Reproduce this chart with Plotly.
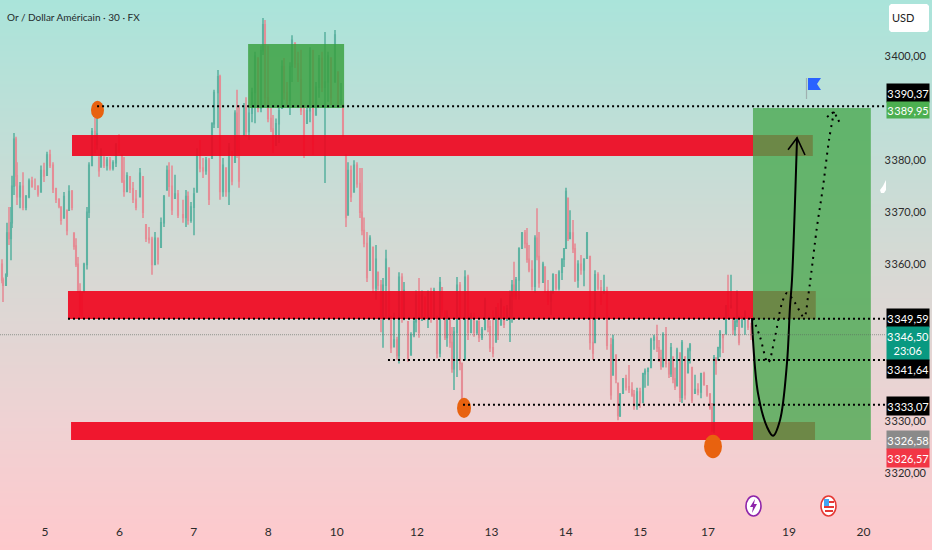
import numpy as np
import plotly.graph_objects as go

W, H = 932, 550
FONT = "Lato, Roboto, sans-serif"

# candle time in 1/74.4 of a session
candle_col = [
    2, 3, 6, 7, 9, 11, 12, 14, 16, 17, 20, 23, 26, 29, 32, 35, 38, 41, 44, 47,
    50, 53, 56, 59, 61, 64, 67, 69, 72, 74, 76, 78, 80, 82, 84, 87, 89, 92, 95, 97,
    99, 101, 104, 107, 110, 113, 116, 119, 122, 124, 127, 130, 133, 136, 140, 143, 146, 149, 152, 155,
    158, 161, 164, 167, 169, 172, 175, 178, 183, 186, 188, 191, 194, 197, 200, 203, 206, 209, 212, 214,
    218, 220, 223, 226, 229, 232, 235, 237, 239, 244, 246, 249, 252, 255, 258, 261, 263, 265, 268, 271,
    273, 276, 279, 282, 284, 287, 290, 292, 295, 298, 301, 304, 307, 310, 313, 316, 319, 322, 325, 328,
    331, 335, 338, 341, 343, 346, 348, 351, 354, 357, 360, 362, 364, 367, 370, 373, 376, 378, 381, 383,
    386, 389, 391, 394, 397, 399, 402, 404, 408, 411, 414, 416, 419, 422, 425, 428, 431, 434, 437, 440,
    442, 445, 447, 450, 452, 454, 457, 460, 462, 465, 468, 471, 474, 477, 479, 482, 485, 488, 490, 493,
    496, 498, 501, 504, 507, 510, 512, 514, 516, 519, 522, 525, 527, 529, 532, 535, 537, 539, 543, 545,
    548, 551, 553, 556, 559, 562, 564, 566, 568, 570, 573, 575, 578, 581, 584, 587, 590, 593, 595, 598,
    601, 604, 607, 611, 613, 616, 618, 620, 623, 626, 629, 632, 634, 637, 640, 643, 645, 648, 651, 654,
    657, 659, 661, 663, 666, 669, 671, 673, 675, 677, 680, 682, 685, 688, 690, 692, 695, 698, 701, 704,
    707, 710, 712, 714, 716, 718, 720, 723, 726, 728, 731, 733, 735, 737, 739, 742, 745, 748, 751,
]
high = [
    3361.0, 3357.5, 3358.3, 3368.0, 3371.0, 3371.0, 3377.0, 3385.2, 3384.5, 3379.6, 3375.8, 3377.7, 3373.3, 3376.5, 3376.8, 3376.5, 3375.2, 3379.0, 3379.5, 3381.6,
    3382.0, 3379.6, 3374.7, 3372.7, 3371.0, 3373.9, 3370.4, 3375.2, 3374.3, 3366.0, 3365.0, 3361.4, 3356.4, 3354.7, 3360.3, 3371.0, 3379.6, 3386.2, 3388.1, 3389.6,
    3380.6, 3382.3, 3380.6, 3380.6, 3380.6, 3380.0, 3383.3, 3385.0, 3381.0, 3380.6, 3377.7, 3376.8, 3375.8, 3374.3, 3378.5, 3376.8, 3367.6, 3367.2, 3365.3, 3366.2,
    3365.0, 3369.0, 3373.3, 3379.0, 3379.6, 3379.0, 3377.2, 3374.3, 3372.4, 3374.3, 3374.0, 3372.0, 3374.7, 3382.3, 3383.9, 3380.4, 3380.6, 3380.4, 3387.3, 3393.5,
    3397.3, 3396.4, 3380.4, 3378.5, 3383.3, 3381.6, 3389.6, 3393.5, 3390.6, 3391.0, 3392.1, 3390.0, 3393.9, 3400.8, 3399.6, 3402.0, 3407.3, 3406.9, 3402.0, 3390.0,
    3388.7, 3388.0, 3390.0, 3399.2, 3399.6, 3395.0, 3398.8, 3404.0, 3402.5, 3400.8, 3401.2, 3390.6, 3390.0, 3401.7, 3401.2, 3395.0, 3400.2, 3400.8, 3404.6, 3400.8,
    3399.6, 3405.0, 3396.9, 3394.8, 3390.6, 3381.0, 3379.6, 3379.0, 3380.0, 3379.6, 3378.5, 3378.5, 3369.0, 3366.2, 3365.6, 3363.3, 3363.7, 3358.5, 3357.0, 3357.4,
    3362.8, 3359.3, 3350.0, 3350.7, 3346.1, 3358.5, 3358.3, 3356.6, 3349.0, 3347.0, 3349.7, 3355.0, 3357.4, 3355.0, 3353.7, 3355.0, 3355.5, 3355.5, 3350.0, 3357.6,
    3355.5, 3351.2, 3351.2, 3349.3, 3348.0, 3348.0, 3357.6, 3356.6, 3341.0, 3358.9, 3358.0, 3350.7, 3350.7, 3349.3, 3349.3, 3348.0, 3353.6, 3349.3, 3349.3, 3351.2,
    3351.8, 3352.6, 3353.5, 3351.8, 3352.2, 3355.0, 3357.0, 3360.5, 3357.6, 3363.3, 3366.2, 3366.6, 3367.0, 3363.7, 3360.8, 3365.6, 3370.8, 3366.2, 3360.5, 3359.5,
    3357.0, 3355.0, 3358.3, 3358.0, 3358.9, 3361.2, 3363.1, 3374.7, 3372.7, 3370.4, 3368.5, 3364.0, 3360.8, 3361.8, 3361.2, 3366.2, 3361.5, 3349.7, 3358.9, 3358.5,
    3357.0, 3358.0, 3355.7, 3345.9, 3346.5, 3342.6, 3337.2, 3335.3, 3338.2, 3338.8, 3340.7, 3337.4, 3335.9, 3336.3, 3336.3, 3339.2, 3340.0, 3340.2, 3345.9, 3346.5,
    3348.4, 3345.5, 3343.6, 3347.0, 3348.0, 3341.7, 3344.9, 3342.2, 3340.2, 3344.0, 3343.0, 3345.5, 3342.2, 3344.0, 3344.9, 3340.2, 3338.8, 3337.2, 3339.2, 3339.4,
    3336.7, 3335.3, 3333.4, 3342.6, 3342.0, 3344.2, 3347.4, 3346.5, 3352.2, 3358.0, 3358.0, 3349.7, 3349.7, 3355.0, 3350.0, 3350.0, 3351.2, 3349.3, 3348.8,
]
low = [
    3356.4, 3352.8, 3356.0, 3357.6, 3363.7, 3360.8, 3367.0, 3373.3, 3375.0, 3371.4, 3370.8, 3370.4, 3370.4, 3372.7, 3374.7, 3374.3, 3373.0, 3373.9, 3375.8, 3377.1,
    3378.5, 3373.7, 3371.8, 3370.8, 3367.6, 3368.9, 3365.6, 3370.4, 3370.4, 3362.8, 3359.5, 3354.5, 3350.0, 3349.7, 3354.7, 3359.0, 3368.9, 3379.0, 3381.4, 3382.0,
    3376.8, 3378.7, 3378.5, 3378.0, 3378.0, 3378.0, 3378.7, 3381.4, 3375.6, 3373.0, 3373.9, 3373.7, 3371.8, 3370.4, 3373.0, 3368.9, 3364.3, 3364.0, 3358.0, 3360.0,
    3360.0, 3363.3, 3367.2, 3374.3, 3373.0, 3369.5, 3372.7, 3368.9, 3368.0, 3367.2, 3367.6, 3368.0, 3365.6, 3373.9, 3377.7, 3376.6, 3377.2, 3371.4, 3380.4, 3386.2,
    3386.2, 3372.4, 3373.0, 3373.0, 3371.4, 3375.2, 3379.6, 3380.4, 3374.7, 3384.8, 3384.5, 3383.9, 3387.3, 3387.1, 3389.2, 3389.2, 3400.2, 3390.6, 3387.3, 3385.4,
    3381.4, 3382.9, 3383.3, 3390.0, 3391.6, 3390.6, 3388.7, 3395.0, 3397.7, 3395.0, 3388.7, 3380.4, 3387.1, 3387.3, 3381.0, 3388.7, 3392.0, 3393.1, 3375.6, 3391.2,
    3390.6, 3395.0, 3390.6, 3390.6, 3384.5, 3367.2, 3369.5, 3372.0, 3373.9, 3374.7, 3368.9, 3365.6, 3363.3, 3356.6, 3358.9, 3354.5, 3353.2, 3355.0, 3347.0, 3344.0,
    3349.7, 3349.3, 3343.0, 3344.2, 3341.7, 3341.0, 3348.8, 3349.3, 3341.3, 3342.6, 3346.0, 3347.0, 3345.9, 3349.3, 3349.3, 3347.8, 3348.8, 3350.0, 3342.0, 3342.2,
    3350.0, 3345.5, 3344.2, 3344.0, 3339.2, 3335.9, 3338.4, 3339.7, 3332.1, 3341.7, 3345.5, 3346.8, 3346.1, 3346.5, 3345.1, 3345.5, 3347.5, 3347.0, 3343.2, 3342.2,
    3345.1, 3345.5, 3348.4, 3347.8, 3349.3, 3345.1, 3348.8, 3353.2, 3353.2, 3353.2, 3363.1, 3363.1, 3360.3, 3358.5, 3355.0, 3354.5, 3360.8, 3355.5, 3356.6, 3354.5,
    3352.2, 3350.3, 3354.5, 3355.0, 3355.0, 3357.0, 3359.5, 3363.1, 3364.5, 3365.0, 3362.2, 3356.6, 3355.5, 3358.0, 3355.8, 3361.2, 3343.6, 3341.7, 3345.0, 3355.0,
    3352.2, 3354.5, 3343.6, 3334.0, 3338.8, 3337.2, 3330.1, 3330.7, 3335.3, 3335.8, 3335.3, 3334.6, 3332.1, 3332.1, 3332.5, 3333.5, 3336.3, 3336.7, 3340.2, 3343.6,
    3343.2, 3341.3, 3339.8, 3340.2, 3340.2, 3338.2, 3338.4, 3337.2, 3335.9, 3336.7, 3333.6, 3333.4, 3334.0, 3339.2, 3341.0, 3333.4, 3335.3, 3334.9, 3334.3, 3336.7,
    3334.6, 3332.1, 3327.8, 3327.6, 3338.8, 3341.7, 3342.2, 3343.0, 3346.7, 3350.0, 3351.7, 3346.5, 3346.3, 3348.0, 3344.5, 3348.0, 3346.5, 3347.4, 3345.5,
]
close = [
    3357.0, 3356.0, 3358.0, 3366.0, 3365.0, 3368.0, 3375.0, 3384.0, 3377.0, 3373.0, 3375.0, 3371.0, 3373.0, 3376.0, 3375.0, 3375.0, 3373.5, 3378.0, 3377.0, 3381.0,
    3379.0, 3374.5, 3372.5, 3371.2, 3368.5, 3373.0, 3366.5, 3374.0, 3371.0, 3363.5, 3360.0, 3355.0, 3351.0, 3350.5, 3360.0, 3370.0, 3379.0, 3385.5, 3383.0, 3385.0,
    3378.0, 3381.0, 3379.0, 3380.0, 3378.5, 3379.5, 3383.0, 3382.0, 3376.0, 3374.0, 3377.0, 3374.5, 3372.5, 3371.0, 3377.5, 3370.0, 3365.0, 3364.8, 3360.0, 3365.0,
    3361.0, 3368.0, 3373.0, 3378.0, 3375.0, 3370.5, 3373.5, 3369.5, 3369.0, 3373.0, 3368.5, 3371.0, 3373.5, 3381.0, 3378.5, 3378.0, 3380.0, 3372.5, 3387.0, 3393.0,
    3396.0, 3374.0, 3379.0, 3374.0, 3382.5, 3376.0, 3389.0, 3382.0, 3376.0, 3390.0, 3385.5, 3389.0, 3393.0, 3400.0, 3390.0, 3401.0, 3406.0, 3392.0, 3388.0, 3386.0,
    3382.0, 3387.0, 3389.5, 3398.0, 3393.0, 3391.5, 3398.0, 3403.0, 3398.5, 3395.5, 3389.5, 3381.0, 3389.5, 3401.0, 3383.0, 3394.0, 3399.5, 3394.0, 3395.0, 3400.0,
    3392.0, 3404.0, 3391.0, 3391.5, 3385.0, 3369.0, 3378.0, 3373.0, 3379.0, 3375.5, 3370.0, 3366.5, 3364.0, 3357.5, 3365.0, 3355.5, 3361.0, 3356.0, 3350.0, 3356.0,
    3361.0, 3351.0, 3344.0, 3345.5, 3342.5, 3357.5, 3350.0, 3355.0, 3342.0, 3346.5, 3349.0, 3354.0, 3347.0, 3354.0, 3350.0, 3354.5, 3350.0, 3355.0, 3343.0, 3356.5,
    3351.0, 3346.0, 3350.0, 3345.0, 3340.0, 3347.0, 3356.0, 3341.0, 3333.0, 3357.5, 3347.0, 3350.0, 3347.0, 3349.0, 3346.0, 3347.5, 3353.0, 3348.0, 3344.0, 3343.0,
    3351.0, 3346.5, 3353.0, 3348.5, 3351.5, 3354.0, 3356.0, 3354.0, 3357.0, 3363.0, 3366.0, 3364.0, 3361.0, 3359.0, 3355.8, 3365.0, 3361.5, 3356.5, 3360.0, 3355.0,
    3353.0, 3354.5, 3358.0, 3355.5, 3358.5, 3361.0, 3363.0, 3374.0, 3365.0, 3366.0, 3363.0, 3357.0, 3360.0, 3359.0, 3361.0, 3366.0, 3345.0, 3343.0, 3358.0, 3355.5,
    3353.0, 3355.0, 3344.5, 3335.0, 3345.5, 3338.0, 3331.0, 3335.0, 3338.0, 3336.5, 3336.0, 3335.0, 3332.8, 3335.5, 3333.5, 3339.0, 3339.5, 3340.0, 3345.5, 3346.0,
    3344.0, 3342.0, 3340.5, 3346.5, 3341.0, 3339.0, 3344.0, 3338.0, 3336.5, 3343.5, 3334.5, 3345.0, 3335.0, 3343.5, 3344.5, 3334.0, 3336.0, 3335.5, 3339.0, 3337.0,
    3335.0, 3332.5, 3328.2, 3342.0, 3341.0, 3344.0, 3347.0, 3346.0, 3352.0, 3351.0, 3352.0, 3347.5, 3349.0, 3354.5, 3345.0, 3349.5, 3350.8, 3348.0, 3346.5,
]

# axis
day_pos = [0, 1, 2, 3, 3.92, 5, 6, 7, 8, 8.91, 10, 11]
day_labels = ["5", "6", "7", "8", "10", "12", "13", "14", "15", "17", "19", "20"]
price_ticks = [3400, 3380, 3370, 3360, 3330, 3320]
price_labels = ["3\u200a400,00", "3\u200a380,00", "3\u200a370,00", "3\u200a360,00", "3\u200a330,00", "3\u200a320,00"]

# zones
band_x0 = [0.363, 0.309, 0.35]
band_x1 = [10.32, 10.36, 10.35]
band_top = [3384.84, 3354.9, 3329.75]
band_bot = [3380.8, 3349.5, 3326.3]

# dotted levels
level_price = [3390.37, 3349.59, 3341.64, 3333.07]
level_start = [0.70, 0.309, 4.61, 5.618]
last_price = 3346.50

# hand drawn path, session / price
solid_x = [9.503, 9.516, 9.583, 9.704, 9.785, 9.879, 9.973, 10.013, 10.04, 10.108]
solid_y = [3349.7, 3345.5, 3335.3, 3328.8, 3327.1, 3330.1, 3341.1, 3351.8, 3357, 3384.3]
dots_x = [9.516, 9.61, 9.718, 9.812, 9.906, 9.973, 10.081, 10.202, 10.255, 10.296, 10.376, 10.457, 10.538, 10.605]
dots_y = [3349.7, 3346.1, 3341.1, 3346.1, 3352.6, 3354.5, 3352.6, 3349.9, 3353.7, 3358, 3367.2, 3374.9, 3383.9, 3389.3]

# price tags: text, pixel row, background
tag_text = ["3\u200a390,37", "3\u200a389,95", "3\u200a349,59", "3\u200a346,50<br>23:06", "3\u200a341,64", "3\u200a333,07", "3\u200a326,58", "3\u200a326,57"]
tag_row = [92.5, 110, 318, 343.5, 369, 406, 440, 458]
tag_h = [18, 16, 18, 33, 18, 18, 18, 18]
tag_bg = ["#000000", "#4caf50", "#000000", "#089981", "#000000", "#000000", "#8a8a8a", "#f23645"]


def fx(p):
    return p / W


def fy(p):
    return 1 - p / H


def paper_path(points):
    return "M" + " L".join(f"{fx(a):.5f},{fy(b):.5f}" for a, b in points) + " Z"


def zone(x0, x1, top, bot, color):
    return go.Scatter(x=[x0, x1, x1, x0, x0], y=[bot, bot, top, top, bot], mode="lines",
                      line=dict(width=0), fill="toself", fillcolor=color,
                      hoverinfo="skip", showlegend=False)


x_candle = (np.array(candle_col) - 45) / 74.4
opens = np.clip(np.r_[3360.0, close[:-1]], low, high)

fig = go.Figure()

fig.add_trace(go.Heatmap(
    x=[-2, 14], y=[3305, 3330, 3360, 3411], z=[[0, 0], [0.32, 0.32], [0.62, 0.62], [1, 1]],
    zsmooth="best", showscale=False, hoverinfo="skip",
    colorscale=[[0, "#ffc8cc"], [0.32, "#efd2d3"], [0.62, "#d6d9d4"], [1, "#aae4da"]]))

fig.add_trace(go.Candlestick(
    x=x_candle, open=opens, high=high, low=low, close=close,
    increasing=dict(line=dict(color="#5eb3a2", width=1.6), fillcolor="#5eb3a2"),
    decreasing=dict(line=dict(color="#e58d96", width=1.6), fillcolor="#e58d96"),
    whiskerwidth=0, hoverinfo="skip", showlegend=False))

for i in range(3):
    fig.add_trace(zone(band_x0[i], band_x1[i], band_top[i], band_bot[i], "rgba(240,4,30,0.91)"))
fig.add_trace(zone(2.73, 4.02, 3402.3, 3390, "rgba(56,160,62,0.82)"))
fig.add_trace(zone(9.516, 11.10, 3390, 3326.3, "rgba(72,168,78,0.78)"))

fig.add_trace(go.Scatter(x=solid_x, y=solid_y, mode="lines", line=dict(color="#000000", width=2, shape="spline"),
                         hoverinfo="skip", showlegend=False))
fig.add_trace(go.Scatter(x=[9.987, 10.108, 10.215], y=[3382, 3384.3, 3381], mode="lines",
                         line=dict(color="#000000", width=1.6), hoverinfo="skip", showlegend=False))
fig.add_trace(go.Scatter(x=dots_x, y=dots_y, mode="lines",
                         line=dict(color="#000000", width=2, dash="2px,5px", shape="spline"),
                         hoverinfo="skip", showlegend=False))
fig.add_trace(go.Scatter(x=[10.511, 10.605, 10.685], y=[3388.3, 3389.3, 3387.1], mode="lines",
                         line=dict(color="#000000", width=2, dash="2px,4px"), hoverinfo="skip", showlegend=False))

shapes = []
# orange pivots
for x0, x1, y0, y1 in [(0.618, 0.793, 3387.9, 3391.4), (5.538, 5.726, 3330.5, 3334.4), (8.858, 9.099, 3322.8, 3327.3)]:
    shapes.append(dict(type="circle", xref="x", yref="y", x0=x0, x1=x1, y0=y0, y1=y1,
                       fillcolor="#e8620f", line=dict(width=0)))
# last price line and levels
shapes.append(dict(type="line", xref="x", yref="y", x0=-0.605, x1=11.29, y0=last_price, y1=last_price,
                   line=dict(color="rgba(90,105,95,0.6)", width=1, dash="1px,1px")))
for p, s in zip(level_price, level_start):
    shapes.append(dict(type="line", xref="x", yref="y", x0=s, x1=11.29, y0=p, y1=p,
                       line=dict(color="#000000", width=2, dash="2px,3px")))
# blue flag
shapes.append(dict(type="line", xref="paper", yref="paper", x0=fx(806.5), x1=fx(806.5), y0=fy(78), y1=fy(99),
                   line=dict(color="#9fb0b0", width=1.2)))
shapes.append(dict(type="path", xref="paper", yref="paper", line=dict(width=0), fillcolor="#2962ff",
                   path=paper_path([(808, 78), (821, 78), (817, 84), (821, 90), (808, 90)])))
# USD box
shapes.append(dict(type="path", xref="paper", yref="paper", line=dict(width=0), fillcolor="#ffffff",
                   path=paper_path([(891, 4), (927, 4), (929, 6), (929, 30), (927, 32), (891, 32), (889, 30), (889, 6)])))
# white drop
shapes.append(dict(type="path", xref="paper", yref="paper", line=dict(width=0), fillcolor="#ffffff",
                   path=paper_path([(886, 180), (886, 190), (884, 193), (881, 193), (880, 190), (883, 186)])))
# event icons
shapes.append(dict(type="circle", xref="paper", yref="paper", x0=fx(746), x1=fx(761), y0=fy(516), y1=fy(496),
                   fillcolor="#ffffff", line=dict(color="#8e24aa", width=1.6)))
shapes.append(dict(type="path", xref="paper", yref="paper", line=dict(width=0), fillcolor="#8e24aa",
                   path=paper_path([(755, 499), (750, 507), (753, 507), (752, 513), (757, 504), (754, 504)])))
shapes.append(dict(type="circle", xref="paper", yref="paper", x0=fx(821), x1=fx(836), y0=fy(516), y1=fy(496),
                   fillcolor="#ffffff", line=dict(color="#e53935", width=1.6)))
shapes.append(dict(type="rect", xref="paper", yref="paper", x0=fx(824), x1=fx(829), y0=fy(506), y1=fy(499),
                   fillcolor="#42a5f5", line=dict(width=0)))
for r in [(829, 834, 501, 503), (824, 834, 506, 508), (825, 833, 510, 512)]:
    shapes.append(dict(type="rect", xref="paper", yref="paper", x0=fx(r[0]), x1=fx(r[1]), y0=fy(r[3]), y1=fy(r[2]),
                       fillcolor="#e53935", line=dict(width=0)))

annotations = [
    dict(xref="paper", yref="paper", x=fx(5), y=fy(17), xanchor="left", yanchor="middle", showarrow=False,
         text="Or / Dollar Américain · 30 · FX", font=dict(family=FONT, size=10, color="#1f2a2a")),
    dict(xref="paper", yref="paper", x=fx(903), y=fy(18), xanchor="center", yanchor="middle", showarrow=False,
         text="USD", font=dict(family=FONT, size=11, color="#222222")),
]
for t, r, h, bg in zip(tag_text, tag_row, tag_h, tag_bg):
    annotations.append(dict(xref="paper", yref="paper", x=fx(908), y=fy(r), xanchor="center", yanchor="middle",
                            showarrow=False, text=t, bgcolor=bg, width=42, height=h, borderpad=0,
                            font=dict(family=FONT, size=11, color="#ffffff")))

fig.update_layout(
    width=W, height=H, margin=dict(l=0, r=0, t=0, b=0),
    paper_bgcolor="#d6d9d4", plot_bgcolor="#d6d9d4", showlegend=False,
    font=dict(family=FONT, size=12, color="#2b2b2b"),
    shapes=shapes, annotations=annotations,
    xaxis=dict(range=[-0.6048, 11.922], tickmode="array", tickvals=day_pos, ticktext=day_labels,
               ticklabelposition="inside", ticklabelstandoff=9, showgrid=True, gridcolor="rgba(0,0,0,0.035)",
               zeroline=False, showline=False, ticks="", rangeslider=dict(visible=False),
               tickfont=dict(family=FONT, size=12, color="#2b2b2b"), layer="above traces"),
    yaxis=dict(range=[3305.18, 3410.75], side="right", tickmode="array", tickvals=price_ticks, ticktext=price_labels,
               ticklabelposition="inside", ticklabelstandoff=3, showgrid=False, zeroline=False, showline=False,
               ticks="", tickfont=dict(family=FONT, size=11, color="#2b2b2b"), layer="above traces"),
)

fig.write_html("out.html", config={"displayModeBar": False}, post_script="document.body.style.margin='0';")
